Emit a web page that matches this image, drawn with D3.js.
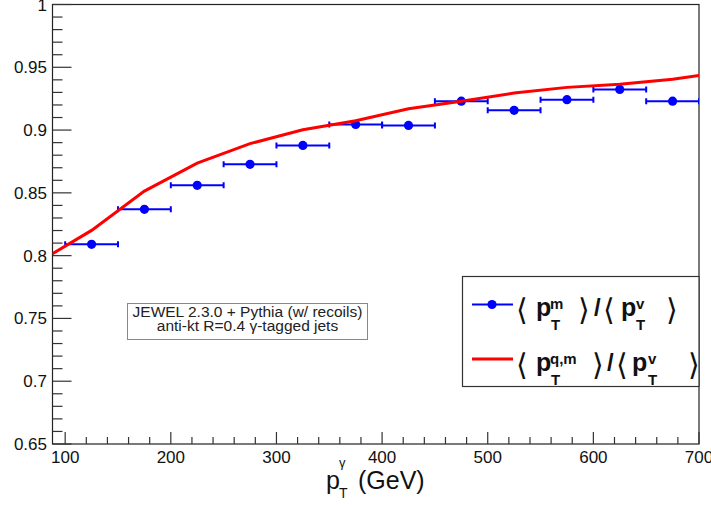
<!DOCTYPE html>
<meta charset="utf-8">
<style>
body { margin: 0; background: #fff; }
text { font-family: "Liberation Sans", Arial, sans-serif; }
</style>
<body>
<script src="https://d3js.org/d3.v7.min.js"></script>
<script>

// data
var binCenters = [125, 175, 225, 275, 325, 375, 425, 475, 525, 575, 625, 675];
var binHalfWidth = 25;
var ratioM = [0.809, 0.8369, 0.856, 0.8727, 0.8878, 0.9045, 0.9037, 0.923, 0.9157, 0.9242, 0.9324, 0.923];
var curveX = [88, 125, 175, 225, 275, 325, 375, 425, 475, 525, 575, 625, 675, 700];
var curveQM = [0.8016, 0.8201, 0.8514, 0.8737, 0.8892, 0.9003, 0.9075, 0.9170, 0.9230, 0.9295, 0.9340, 0.9365, 0.9404, 0.9435];
var xMajorTicks = [100, 200, 300, 400, 500, 600, 700];
var yMajorTicks = [0.65, 0.7, 0.75, 0.8, 0.85, 0.9, 0.95, 1];

var W = 711, H = 505;
var pLeft = 52.5, pRight = 699, pTop = 4.5, pBottom = 444;

var x = d3.scaleLinear().domain([88, 700]).range([pLeft, pRight]);
var y = d3.scaleLinear().domain([0.65, 1]).range([pBottom, pTop]);

var svg = d3.select("body").append("svg")
    .attr("width", W)
    .attr("height", H);

svg.append("defs").append("clipPath").attr("id", "plotclip")
  .append("rect")
    .attr("x", pLeft).attr("y", pTop)
    .attr("width", pRight - pLeft).attr("height", pBottom - pTop);

// frame
svg.append("rect")
    .attr("x", pLeft).attr("y", pTop)
    .attr("width", pRight - pLeft).attr("height", pBottom - pTop)
    .attr("fill", "none")
    .attr("stroke", "#222")
    .attr("stroke-width", 1.2);

// y ticks (inside, left)
var yMinor = d3.range(0, 36).map(function(i) { return 0.65 + i * 0.01; });
svg.append("g").selectAll("line")
  .data(yMinor)
  .enter().append("line")
    .attr("x1", pLeft).attr("x2", function(d, i) {
      return pLeft + (i % 5 === 0 ? 19 : 10);
    })
    .attr("y1", function(d) { return y(d); })
    .attr("y2", function(d) { return y(d); })
    .attr("stroke", "#333")
    .attr("stroke-width", 1.2);

svg.append("g").selectAll("text")
  .data(yMajorTicks)
  .enter().append("text")
    .attr("x", 47)
    .attr("y", function(d) { return y(d) + 6; })
    .attr("text-anchor", "end")
    .attr("font-size", 17)
    .attr("fill", "#111")
    .text(function(d) { return d3.format("")(d); });

// x ticks (inside, bottom)
var xMinor = d3.range(100, 701, 20);
svg.append("g").selectAll("line")
  .data(xMinor)
  .enter().append("line")
    .attr("x1", function(d) { return x(d); })
    .attr("x2", function(d) { return x(d); })
    .attr("y1", pBottom)
    .attr("y2", function(d) { return pBottom - (d % 100 === 0 ? 12 : 7); })
    .attr("stroke", "#333")
    .attr("stroke-width", 1.2);

svg.append("g").selectAll("text")
  .data(xMajorTicks)
  .enter().append("text")
    .attr("x", function(d) { return x(d); })
    .attr("y", 463)
    .attr("text-anchor", "middle")
    .attr("font-size", 17)
    .attr("fill", "#111")
    .text(function(d) { return d; });

// x axis title
svg.append("text").attr("x", 326).attr("y", 489).attr("font-size", 25).attr("fill", "#111").text("p");
svg.append("text").attr("x", 339).attr("y", 498).attr("font-size", 14).attr("fill", "#111").text("T");
svg.append("text").attr("x", 339).attr("y", 467).attr("font-size", 13).attr("fill", "#111").text("γ");
svg.append("text").attr("x", 358).attr("y", 489).attr("font-size", 25).attr("fill", "#111").text("(GeV)");

var plot = svg.append("g").attr("clip-path", "url(#plotclip)");

// blue points with horizontal bin-width bars
var pts = binCenters.map(function(c, i) { return {x: c, y: ratioM[i]}; });
plot.selectAll(".hbar")
  .data(pts)
  .enter().append("line")
    .attr("x1", function(d) { return x(d.x - binHalfWidth); })
    .attr("x2", function(d) { return x(d.x + binHalfWidth); })
    .attr("y1", function(d) { return y(d.y); })
    .attr("y2", function(d) { return y(d.y); })
    .attr("stroke", "#0000ff")
    .attr("stroke-width", 2);

plot.selectAll(".cap")
  .data(pts.flatMap(function(d) { return [{x: d.x - binHalfWidth, y: d.y}, {x: d.x + binHalfWidth, y: d.y}]; }))
  .enter().append("line")
    .attr("x1", function(d) { return x(d.x); })
    .attr("x2", function(d) { return x(d.x); })
    .attr("y1", function(d) { return y(d.y) - 3; })
    .attr("y2", function(d) { return y(d.y) + 3; })
    .attr("stroke", "#0000ff")
    .attr("stroke-width", 2);

plot.selectAll("circle")
  .data(pts)
  .enter().append("circle")
    .attr("cx", function(d) { return x(d.x); })
    .attr("cy", function(d) { return y(d.y); })
    .attr("r", 4.6)
    .attr("fill", "#0000ff");

// red curve
var curve = curveX.map(function(c, i) { return {x: c, y: curveQM[i]}; });
plot.append("path")
    .datum(curve)
    .attr("fill", "none")
    .attr("stroke", "#ff0000")
    .attr("stroke-width", 3)
    .attr("d", d3.line()
      .x(function(d) { return x(d.x); })
      .y(function(d) { return y(d.y); }));

// annotation box
svg.append("rect")
    .attr("x", 127.5).attr("y", 303.5)
    .attr("width", 240).attr("height", 36)
    .attr("fill", "#fff")
    .attr("stroke", "#888")
    .attr("stroke-width", 1);
svg.append("text")
    .attr("x", 247.5).attr("y", 317)
    .attr("text-anchor", "middle")
    .attr("font-size", 15.5)
    .attr("fill", "#222")
    .text("JEWEL 2.3.0 + Pythia (w/ recoils)");
svg.append("text")
    .attr("x", 247.5).attr("y", 331)
    .attr("text-anchor", "middle")
    .attr("font-size", 15.5)
    .attr("fill", "#222")
    .text("anti-kt R=0.4 γ-tagged jets");

// legend
var leg = svg.append("g");
leg.append("rect")
    .attr("x", 462.5).attr("y", 276.5)
    .attr("width", 236.5).attr("height", 110)
    .attr("fill", "#fff")
    .attr("stroke", "#333")
    .attr("stroke-width", 1.2);

leg.append("line")
    .attr("x1", 472).attr("x2", 513).attr("y1", 304.5).attr("y2", 304.5)
    .attr("stroke", "#0000ff").attr("stroke-width", 2);
leg.append("circle")
    .attr("cx", 492).attr("cy", 304.5).attr("r", 4.6).attr("fill", "#0000ff");
leg.append("line")
    .attr("x1", 472).attr("x2", 513).attr("y1", 359).attr("y2", 359)
    .attr("stroke", "#ff0000").attr("stroke-width", 3);

function piece(g, txt, px, py, size, bold, fam) {
  g.append("text")
    .attr("x", px).attr("y", py)
    .attr("font-size", size)
    .attr("font-weight", bold ? "bold" : "normal")
    .attr("font-family", fam || null)
    .attr("fill", "#111")
    .text(txt);
}

function legendLabel(g, base, sup, pos) {
  var br = "DejaVu Sans";
  piece(g, "\u27E8", pos[0], base + 4, 30, false, br);
  piece(g, "p", pos[1], base, 25, true);
  piece(g, sup, pos[2], base - 7, 15, true);
  piece(g, "T", pos[2] + 1, base + 14, 15, true);
  piece(g, "\u27E9", pos[3], base + 4, 30, false, br);
  piece(g, "/", pos[4], base, 24, true);
  piece(g, "\u27E8", pos[5], base + 4, 30, false, br);
  piece(g, "p", pos[6], base, 25, true);
  piece(g, "v", pos[7], base - 7, 15, true);
  piece(g, "T", pos[7], base + 14, 15, true);
  piece(g, "\u27E9", pos[8], base + 4, 30, false, br);
}

legendLabel(leg, 316, "m", [516, 536, 550, 578, 594, 603, 621, 636, 666]);
legendLabel(leg, 371, "q,m", [516, 536, 550, 592, 607, 616, 632, 648, 688]);

</script>
</body>
